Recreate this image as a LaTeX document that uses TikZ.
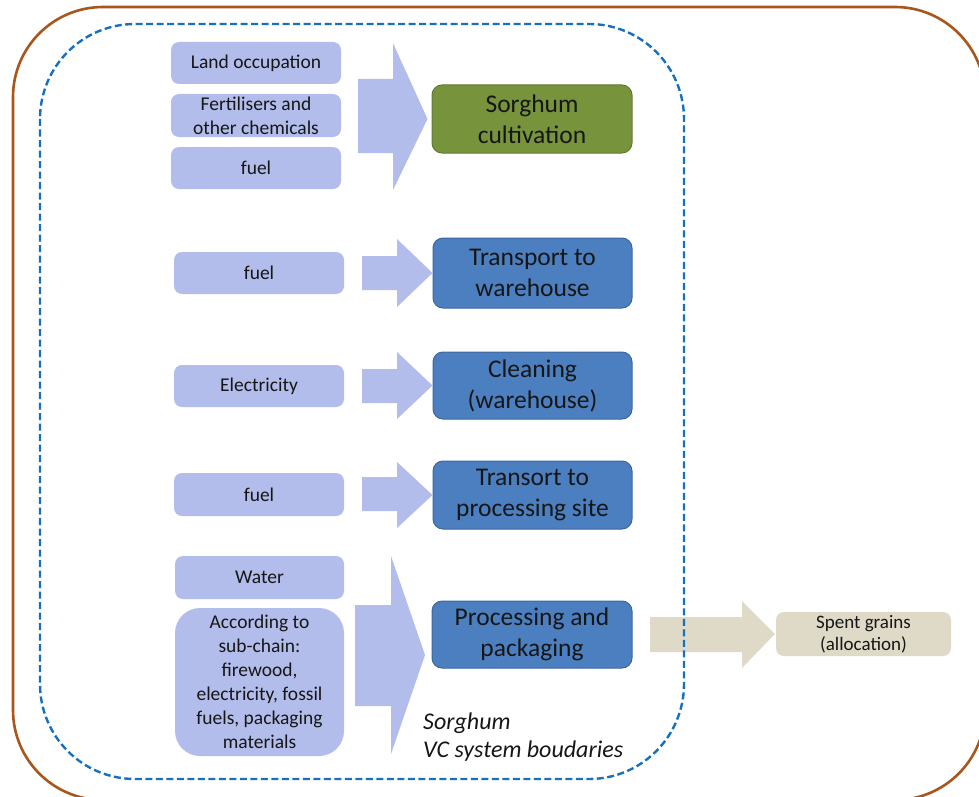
\documentclass[tikz,border=0pt]{standalone}
\usepackage{fontspec}
\setmainfont{Carlito}
\definecolor{lav}{RGB}{179,189,235}
\definecolor{oliv}{RGB}{119,147,60}
\definecolor{olivdk}{RGB}{98,122,50}
\definecolor{stageblue}{RGB}{76,127,192}
\definecolor{stageedge}{RGB}{60,102,158}
\definecolor{tan}{RGB}{222,218,199}
\definecolor{brownline}{RGB}{168,86,28}
\definecolor{dashblue}{RGB}{22,112,190}
\definecolor{txt}{RGB}{22,22,22}
\begin{document}
\begin{tikzpicture}[x=1pt,y=-1pt,
  inbox/.style={fill=lav, rounded corners=8pt, inner sep=0pt, align=center,
    text=txt, font=\fontsize{19.5}{24}\selectfont},
  stage/.style={fill=stageblue, draw=stageedge, line width=1pt, rounded corners=10pt,
    inner sep=0pt, align=center, text=txt, font=\fontsize{25.5}{31}\selectfont},
  outbox/.style={fill=tan, rounded corners=8pt, inner sep=0pt, align=center,
    text=txt, font=\fontsize{19}{22}\selectfont},
  lavarrow/.style={fill=lav},
  tanarrow/.style={fill=tan}]
\useasboundingbox (0,0) rectangle (979,797);

% outer frame
\draw[brownline, line width=2.6pt, rounded corners=90pt] (13,7) rectangle (985,800);

% inputs of the cultivation step
\node[inbox, minimum width=170, minimum height=42] (land) at (256,63) {Land occupation};
\node[inbox, minimum width=170, minimum height=43] (fert) at (256,115.5) {Fertilisers and\\other chemicals};
\node[inbox, minimum width=170, minimum height=42] (fuelA) at (256,168) {fuel};
% other inputs
\node[inbox, minimum width=170, minimum height=42] (fuelB) at (259,273) {fuel};
\node[inbox, minimum width=170, minimum height=42] (elec) at (259,386) {Electricity};
\node[inbox, minimum width=170, minimum height=43] (fuelC) at (259,494.5) {fuel};
\node[inbox, minimum width=169, minimum height=43] (water) at (259.5,577.5) {Water};
\node[inbox, rounded corners=25pt, minimum width=169, minimum height=148] (subchain) at (259.5,682)
  {According to\\sub-chain:\\firewood,\\electricity, fossil\\fuels, packaging\\materials};

% value chain stages
\node[stage, fill=oliv, draw=olivdk, minimum width=200, minimum height=68] (cult) at (532,119) {Sorghum\\cultivation};
\node[stage, minimum width=199, minimum height=70] (trans) at (532.5,273) {Transport to\\warehouse};
\node[stage, minimum width=199, minimum height=67] (clean) at (532.5,385.5) {Cleaning\\(warehouse)};
\node[stage, minimum width=199, minimum height=68] (transp) at (532.5,495) {Transort to\\processing site};
\node[stage, minimum width=200, minimum height=67] (proc) at (532,634.5) {Processing and\\packaging};

% co-product
\node[outbox, minimum width=175, minimum height=44] (spent) at (863.5,634) {Spent grains\\(allocation)};

% block arrows
\fill[lavarrow] (358,79) -- (393,79) -- (393,43) -- ([xshift=-4pt]cult.west) -- (393,190) -- (393,153) -- (358,153) -- cycle;
\fill[lavarrow] (362,256) -- (397,256) -- (397,239) -- (trans.west) -- (397,307) -- (397,290) -- (362,290) -- cycle;
\fill[lavarrow] (362,369) -- (397,369) -- (397,352) -- (clean.west) -- (397,419) -- (397,403) -- (362,403) -- cycle;
\fill[lavarrow] (362,477) -- (397,477) -- (397,462) -- (transp.west) -- (397,528) -- (397,511) -- (362,511) -- cycle;
\coordinate (ptip) at (425,655);
\fill[lavarrow] (355,605) -- (391,605) -- (391,556) -- (ptip) -- (391,754) -- (391,706) -- (355,706) -- cycle;
\fill[tanarrow] (650,617) -- (742,617) -- (742,601) -- ([xshift=-1pt]spent.west) -- (742,668) -- (742,652) -- (650,652) -- cycle;

% system boundary
\draw[dashblue, line width=2.4pt, dash pattern=on 7pt off 3.5pt, rounded corners=95pt] (40,24) rectangle (684,779);
\node[anchor=north west, inner sep=0pt, align=left, text=txt,
  font=\fontsize{24}{28}\selectfont\itshape] (bound) at (423,713) {Sorghum\\VC system boudaries};
\end{tikzpicture}
\end{document}
